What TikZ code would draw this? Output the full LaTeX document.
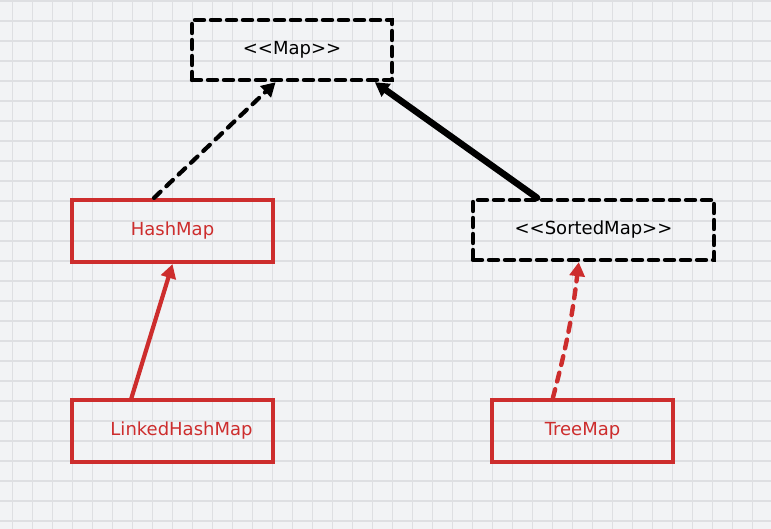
\documentclass[tikz,border=0pt]{standalone}
\usepackage{fontspec}
\setmainfont{DejaVu Sans}
\usetikzlibrary{arrows.meta,calc}
\definecolor{bg}{RGB}{242,243,245}
\definecolor{gridc}{RGB}{222,223,226}
\definecolor{myred}{RGB}{205,45,45}
\tikzset{
  x=1pt,y=-1pt,
  lbl/.style={font=\fontsize{18}{20}\selectfont},
  blackbox/.style={draw=black,line width=4.4pt,dash pattern=on 9pt off 7pt,line cap=round,inner sep=0pt,lbl},
  redbox/.style={draw=myred,line width=4.2pt,line cap=round,inner sep=0pt,text=myred,lbl},
  tip/.style={-{Triangle[length=14pt,width=15pt]}},
}
\begin{document}
\begin{tikzpicture}
\useasboundingbox (0,0) rectangle (771,529);
\fill[bg] (0,0) rectangle (771,529);
\foreach \i in {0,...,38} {\draw[gridc,line width=1.3pt] (12.7+20*\i,0) -- (12.7+20*\i,529);}
\foreach \j in {0,...,26} {\draw[gridc,line width=1.3pt] (0,1+20*\j) -- (771,1+20*\j);}

\node[blackbox,minimum width=200pt,minimum height=60pt] (map) at (292,50) {<\kern0pt<Map>\kern0pt>};
\node[blackbox,minimum width=241pt,minimum height=60pt] (sorted) at (593.5,230) {<\kern0pt<SortedMap>\kern0pt>};
\node[redbox,minimum width=201pt,minimum height=62pt] (hash) at (172.5,231) {HashMap};
\node[redbox,minimum width=201pt,minimum height=62pt] (linked) at (172.5,431) {\hspace*{18pt}LinkedHashMap};
\node[redbox,minimum width=181pt,minimum height=62pt] (tree) at (582.5,431) {TreeMap};

\draw[tip,black,line width=4.2pt,dash pattern=on 9pt off 8pt,line cap=round]
  ($(hash.north west)!0.41!(hash.north east)$) -- ($(map.south west)!0.42!(map.south east)$);
\draw[tip,black,line width=6.5pt,line cap=round]
  ($(sorted.north west)!0.27!(sorted.north east)$) -- ($(map.south west)!0.905!(map.south east)$);
\draw[tip,myred,line width=4.2pt,line cap=round]
  ($(linked.north west)!0.30!(linked.north east)$) -- ($(hash.south west)!0.50!(hash.south east)$);
\draw[tip,myred,line width=4.4pt,dash pattern=on 9pt off 8pt,line cap=round]
  ($(tree.north west)!0.34!(tree.north east)$) to[bend right=4] ($(sorted.south west)!0.44!(sorted.south east)$);
\end{tikzpicture}
\end{document}
